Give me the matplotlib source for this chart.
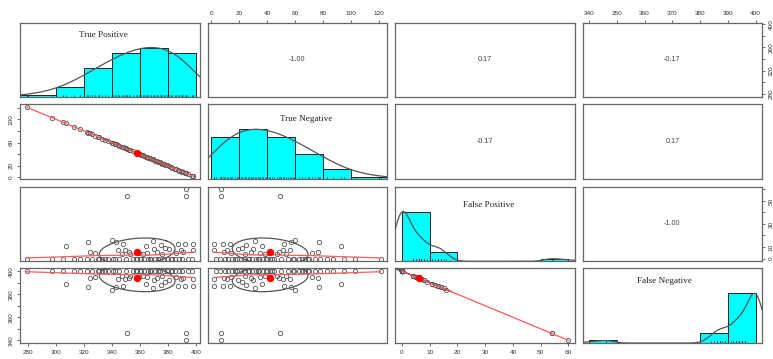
import numpy as np
import matplotlib
matplotlib.use("Agg")
import matplotlib.pyplot as plt
from matplotlib.patches import Rectangle

# ---------------------------------------------------------------- data
labels = ["True Positive", "True Negative", "False Positive", "False Negative"]

true_positive = [279, 297, 305, 307, 313, 317, 322, 323, 324, 326,
                 328, 330, 331, 333, 335, 337, 340, 341, 342, 343,
                 344, 345, 347, 348, 349, 350, 351, 352, 353, 355,
                 357, 358, 359, 360, 361, 362, 363, 364, 365, 366,
                 367, 368, 369, 370, 371, 372, 373, 374, 375, 376,
                 377, 378, 379, 381, 382, 383, 385, 386, 387, 388,
                 389, 390, 391, 392, 393, 393, 394, 397, 398, 398]

true_negative = [121, 103, 95, 93, 87, 83, 78, 77, 76, 74,
                 72, 70, 69, 67, 65, 63, 60, 59, 58, 57,
                 56, 55, 53, 52, 51, 50, 49, 48, 47, 45,
                 43, 42, 41, 40, 39, 38, 37, 36, 35, 34,
                 33, 32, 31, 30, 29, 28, 27, 26, 25, 24,
                 23, 22, 21, 19, 18, 17, 15, 14, 13, 12,
                 11, 10, 9, 8, 7, 7, 6, 3, 2, 2]

false_positive = [0, 0, 0, 11, 0, 0, 0, 14, 6, 0,
                  5, 0, 0, 0, 0, 0, 16, 0, 0, 14,
                  7, 0, 4, 13, 7, 0, 54, 6, 4, 0,
                  0, 0, 5, 0, 0, 4, 0, 11, 5, 0,
                  0, 0, 15, 8, 0, 6, 0, 0, 12, 4,
                  0, 9, 0, 8, 0, 0, 0, 5, 13, 0,
                  7, 0, 6, 13, 54, 60, 0, 0, 13, 7]

false_negative = [400, 400, 400, 389, 400, 400, 400, 386, 394, 400,
                  395, 400, 400, 400, 400, 400, 384, 400, 400, 386,
                  393, 400, 396, 387, 393, 400, 346, 394, 396, 400,
                  400, 400, 395, 400, 400, 396, 400, 389, 395, 400,
                  400, 400, 385, 392, 400, 394, 400, 400, 388, 396,
                  400, 391, 400, 392, 400, 400, 400, 395, 387, 400,
                  393, 400, 394, 387, 346, 340, 400, 400, 387, 393]

# correlation labels for the upper panels, row by row
correlation_labels = ["-1.00", "0.17", "-0.17", "-0.17", "0.17", "-1.00"]

# histogram break points for each variable
hist_breaks = [
    [260, 280, 300, 320, 340, 360, 380, 400],
    [0, 20, 40, 60, 80, 100, 120, 140],
    [0, 10, 20, 30, 40, 50, 60],
    [340, 350, 360, 370, 380, 390, 400],
]

# axis ticks and the labels that are written beside them
tick_values = [
    [280, 300, 320, 340, 360, 380, 400],
    [0, 20, 40, 60, 80, 100, 120],
    [0, 10, 20, 30, 40, 50, 60],
    [340, 350, 360, 370, 380, 390, 400],
]
vertical_tick_labels = [
    [280, 320, 360, 400],
    [0, 20, 60, 100],
    [0, 10, 30, 50],
    [340, 360, 380, 400],
]

# diagonal label positions (axes fraction)
label_pos = [(0.462, 0.835), (0.549, 0.81), (0.517, 0.755), (0.458, 0.835)]

variables = [np.asarray(v, float) for v in
             (true_positive, true_negative, false_positive, false_negative)]

# ---------------------------------------------------------------- helpers
def lowess(x, y, f=2 / 3, iters=3):
    order = np.argsort(x, kind="mergesort")
    xs, ys = x[order], y[order]
    n = len(xs)
    ns = max(min(int(round(f * n)), n), 2)
    rng = xs[-1] - xs[0]
    rw = np.ones(n)
    fit = np.zeros(n)
    for it in range(iters + 1):
        for i in range(n):
            d = np.abs(xs - xs[i])
            h = max(np.sort(d)[ns - 1], 1e-12)
            u = d / h
            w = np.where(d <= 0.999 * h, (1 - u ** 3) ** 3, 0.0)
            w = np.where(d <= 0.001 * h, 1.0, w) * rw
            sw = w.sum()
            if sw <= 0:
                fit[i] = ys[i]
                continue
            w = w / sw
            a = np.sum(w * xs)
            c = np.sum(w * (xs - a) ** 2)
            if np.sqrt(c) > 0.001 * rng:
                fit[i] = np.sum(w * ys) + np.sum(w * (xs - a) * ys) / c * (xs[i] - a)
            else:
                fit[i] = np.sum(w * ys)
        if it == iters:
            break
        res = np.abs(ys - fit)
        cmad = 6 * np.median(res)
        if cmad < 1e-7 * np.mean(np.abs(ys)):
            break
        r = res / cmad
        rw = np.where(res <= 0.999 * cmad, (1 - r ** 2) ** 2, 0.0)
        rw = np.where(res <= 0.001 * cmad, 1.0, rw)
    return xs, fit


def draw_ellipse(ax, x, y):
    xm, ym = x.mean(), y.mean()
    sx, sy = x.std(ddof=1), y.std(ddof=1)
    r = np.clip(np.corrcoef(x, y)[0, 1], -1, 1)
    ang = np.arange(52) * 2 * np.pi / 51
    unit = np.column_stack([np.cos(ang), np.sin(ang)])
    th = np.sign(r) / np.sqrt(2) if abs(r) > 0 else 1 / np.sqrt(2)
    shape = np.diag([np.sqrt(1 + r), np.sqrt(max(1 - r, 0))]) @ np.array([[th, th], [-th, th]])
    ell = unit @ shape
    ax.plot(ell[:, 0] * sx + xm, ell[:, 1] * sy + ym, color="#555555", lw=0.9, zorder=3)
    ax.plot([xm], [ym], "o", color="red", ms=4.3, mec="red", zorder=4)


def right_closed_counts(x, breaks):
    b = np.asarray(breaks, float)
    counts = []
    for k in range(len(b) - 1):
        if k == 0:
            m = (x >= b[0]) & (x <= b[1])
        else:
            m = (x > b[k]) & (x <= b[k + 1])
        counts.append(m.sum())
    return np.array(counts, float)


def density_curve(x, adjust=1.2):
    n = len(x)
    q1, q3 = np.percentile(x, [25, 75])
    h = (q3 - q1) / 1.34
    bw = 1.06 * min(np.std(x, ddof=1), h) * n ** (-0.2) * adjust
    grid = np.linspace(x.min() - 3 * bw, x.max() + 3 * bw, 512)
    dens = np.exp(-0.5 * ((grid[:, None] - x[None, :]) / bw) ** 2).sum(axis=1)
    return grid, dens / dens.max()


def limits(x):
    span = x.max() - x.min()
    return x.min() - 0.04 * span, x.max() + 0.04 * span

# ---------------------------------------------------------------- layout
W, H = 773, 359
fig = plt.figure(figsize=(W / 100, H / 100), dpi=100)
col_x0 = [20.0, 207.5, 395.3, 582.5]
row_y0 = [22.6, 104.4, 186.6, 268.4]
pw, ph = 179.8, 74.7

box_color = "#666666"
tick_color = "#555555"
tick_font = dict(family="Liberation Sans", size=4.6, color="#333333")

lims = [limits(v) for v in variables]
corr_iter = iter(correlation_labels)

for i in range(4):
    for j in range(4):
        ax = fig.add_axes([col_x0[j] / W, 1 - (row_y0[i] + ph) / H, pw / W, ph / H])
        ax.set_xlim(*lims[j])
        for s in ax.spines.values():
            s.set_color(box_color)
            s.set_linewidth(0.9)
        ax.set_xticks([])
        ax.set_yticks([])

        if i == j:
            x = variables[j]
            ax.set_ylim(0, 1.5)
            counts = right_closed_counts(x, hist_breaks[j])
            heights = counts / counts.max()
            b = hist_breaks[j]
            for k, hgt in enumerate(heights):
                if hgt > 0:
                    ax.add_patch(Rectangle((b[k], 0), b[k + 1] - b[k], hgt,
                                           facecolor="#00FFFF", edgecolor="#222222",
                                           lw=0.7, zorder=2))
            g, d = density_curve(x)
            ax.plot(g, d, color="#555555", lw=0.9, zorder=3)
            for v in x:
                ax.plot([v, v], [0, 0.045], color="#333333", lw=0.4, zorder=3)
            ax.text(*label_pos[j], labels[j], transform=ax.transAxes,
                    ha="center", va="center", family="Liberation Serif",
                    size=6.6, color="#222222")
        elif i > j:
            x, y = variables[j], variables[i]
            ax.set_ylim(*lims[i])
            ax.plot(x, y, "o", mfc="none", mec="#555555", ms=3.1, mew=0.6, zorder=2)
            draw_ellipse(ax, x, y)
            lx, ly = lowess(x, y)
            ax.plot(lx, ly, color="#ff5a5a", lw=0.9, zorder=3)
        else:
            ax.set_ylim(*lims[i])
            ax.text(0.5, 0.5, next(corr_iter), transform=ax.transAxes,
                    ha="center", va="center", family="Liberation Sans",
                    size=5.2, color="#444444")

        # axes on alternating sides
        if i == 3 and j in (0, 2):
            ax.set_xticks(tick_values[j])
            ax.set_xticklabels([str(t) for t in tick_values[j]], **tick_font)
        if i == 0 and j in (1, 3):
            ax.xaxis.set_ticks_position("top")
            ax.set_xticks(tick_values[j])
            ax.set_xticklabels([str(t) for t in tick_values[j]], **tick_font)
        if j == 0 and i in (1, 3):
            ax.set_yticks(tick_values[i])
            ax.set_yticklabels([str(t) if t in vertical_tick_labels[i] else ""
                                for t in tick_values[i]], rotation=90, va="center", **tick_font)
        if j == 3 and i in (0, 2):
            ax.yaxis.set_ticks_position("right")
            ax.set_yticks(tick_values[i])
            ax.set_yticklabels([str(t) if t in vertical_tick_labels[i] else ""
                                for t in tick_values[i]], rotation=90, va="center", **tick_font)
        ax.tick_params(length=2.4, width=0.6, color=tick_color, pad=2.4)

fig.savefig("out.png", dpi=100, facecolor="white")
